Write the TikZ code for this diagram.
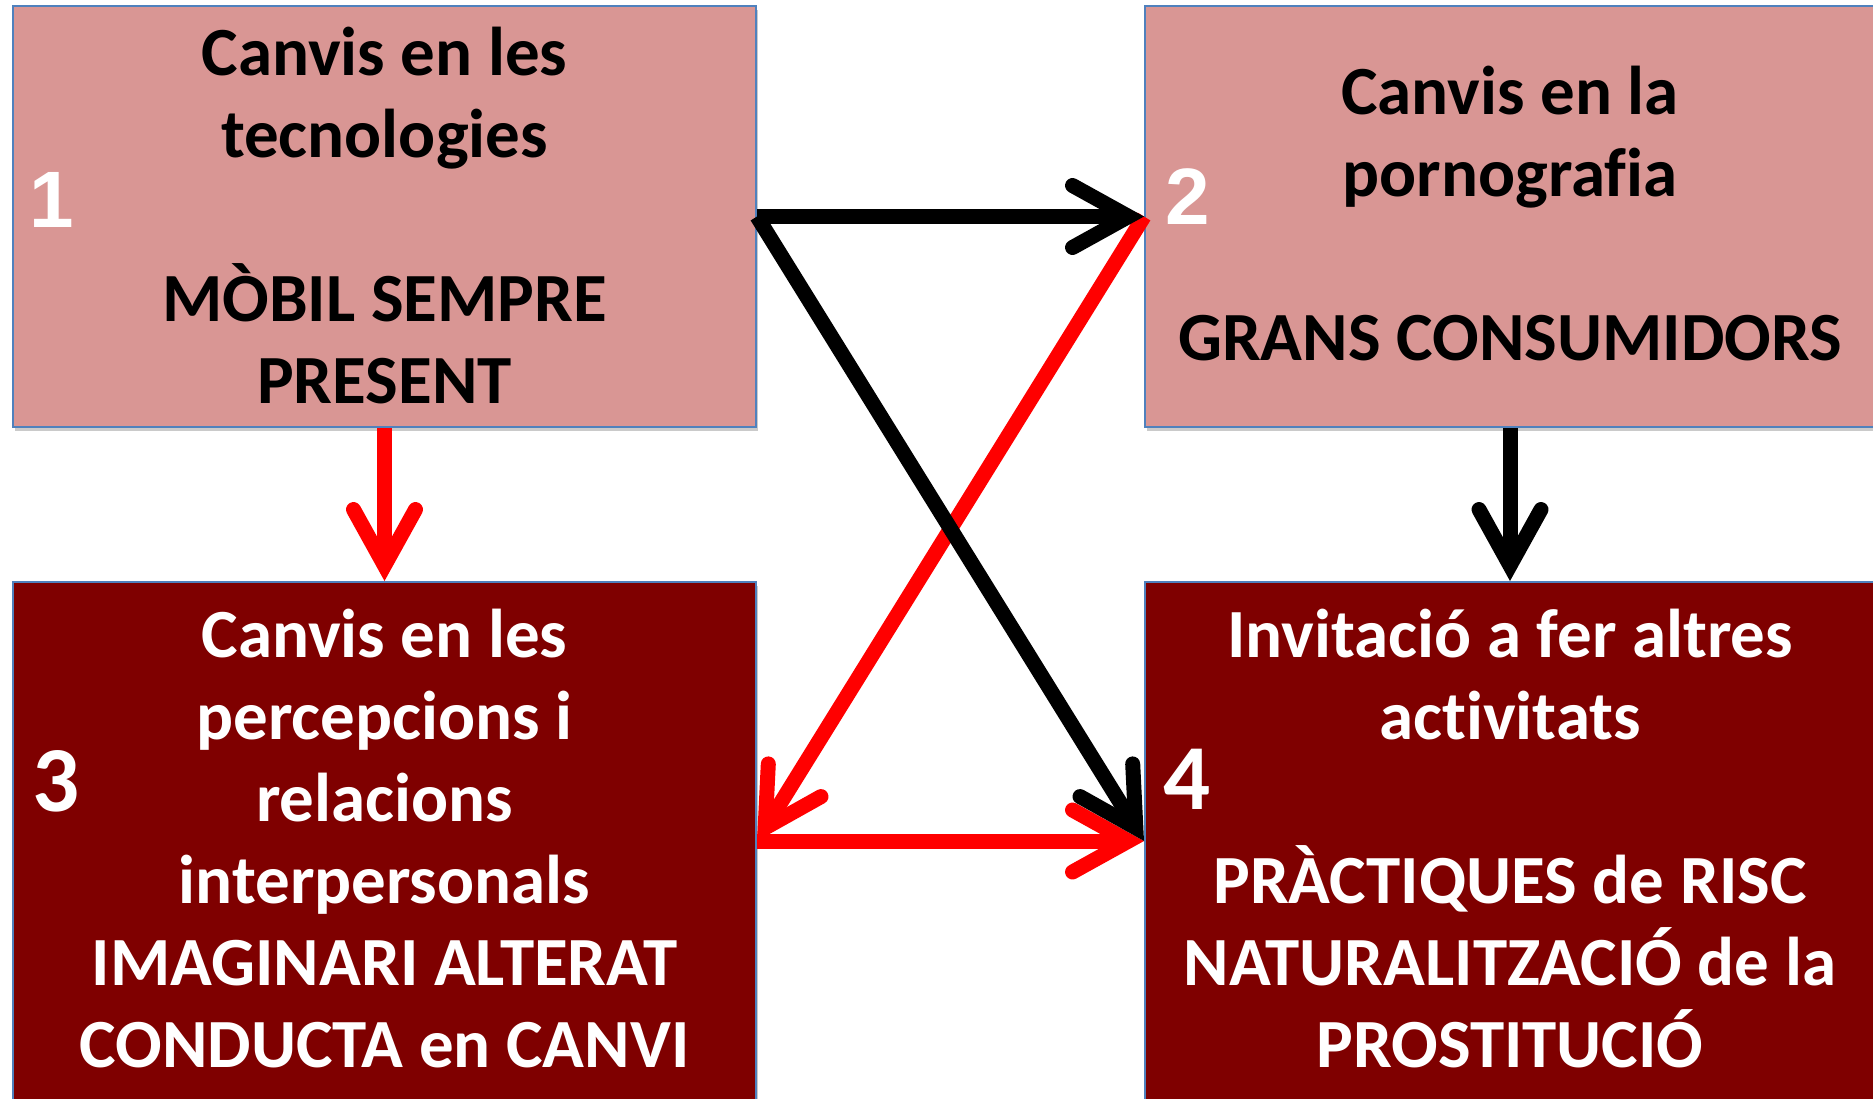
\documentclass[tikz,border=0pt]{standalone}
\usepackage{fontspec}
\setmainfont{Carlito}[Ligatures=NoCommon]
\newfontfamily\arialfont{Liberation Sans}
\usetikzlibrary{arrows.meta,shadows}
\definecolor{pinkfill}{HTML}{D99694}
\definecolor{darkfill}{HTML}{7F0000}
\definecolor{borderblue}{HTML}{4F81BD}
\begin{document}
\begin{tikzpicture}[x=1pt,y=-1pt,
  box/.style={draw=borderblue, line width=2pt, rectangle, inner sep=0pt,
    drop shadow={shadow xshift=2pt, shadow yshift=-4pt, opacity=0.35, fill=black!60}},
  lightbox/.style={box, fill=pinkfill},
  darkbox/.style={box, fill=darkfill},
  boxtext/.style={anchor=base, align=center, inner sep=0pt,
    font=\fontsize{69}{82}\selectfont\bfseries},
  numa/.style={anchor=base, inner sep=0pt, text=white,
    font={\fontsize{80}{90}\arialfont\bfseries\selectfont}},
  numc/.style={anchor=base, inner sep=0pt, text=white,
    font=\fontsize{93}{100}\selectfont\bfseries},
  conn/.style={line width=15pt,
    -{Straight Barb[length=56pt,width=62pt,line width=15pt,line cap=round,line join=miter]}},
]
\useasboundingbox (0,0) rectangle (1873,1098);
\clip (0,0) rectangle (1873,1098);

\node[lightbox, minimum width=743pt, minimum height=421pt] (b1) at (384.5,216.5) {};
\node[lightbox, minimum width=730pt, minimum height=421pt] (b2) at (1510,216.5) {};
\node[darkbox, minimum width=743pt, minimum height=518pt] (b3) at (384.5,841) {};
\node[darkbox, minimum width=730pt, minimum height=518pt] (b4) at (1510,841) {};

\node[boxtext, text=black] (t1) at (384.5,403) {Canvis en les\\tecnologies\\[82pt]MÒBIL SEMPRE\\PRESENT};
\node[boxtext, text=black] (t2) at (1510,360) {Canvis en la\\pornografia\\[82pt]GRANS CONSUMIDORS};
\node[boxtext, text=white] (t3) at (384.5,1067) {Canvis en les\\percepcions i\\relacions\\interpersonals\\IMAGINARI ALTERAT\\CONDUCTA en CANVI};
\node[boxtext, text=white] (t4) at (1510,1067) {Invitació a fer altres\\activitats\\[82pt]PRÀCTIQUES de RISC\\NATURALITZACIÓ de la\\PROSTITUCIÓ};

\node[numa] (n1) at (52,227) {1};
\node[numa] (n2) at (1188,224) {2};
\node[numc] (n3) at (56,811) {3};
\node[numc] (n4) at (1187,809) {4};

\draw[conn, red] (b1.south) -- (b3.north);
\draw[conn, black] (b2.south) -- (b4.north);
\draw[conn, red] (b3.east) -- (b4.west);
\draw[conn, red] (b2.west) -- (b3.east);
\draw[conn, black] (b1.east) -- (b4.west);
\draw[conn, black] (b1.east) -- (b2.west);
\end{tikzpicture}
\end{document}
